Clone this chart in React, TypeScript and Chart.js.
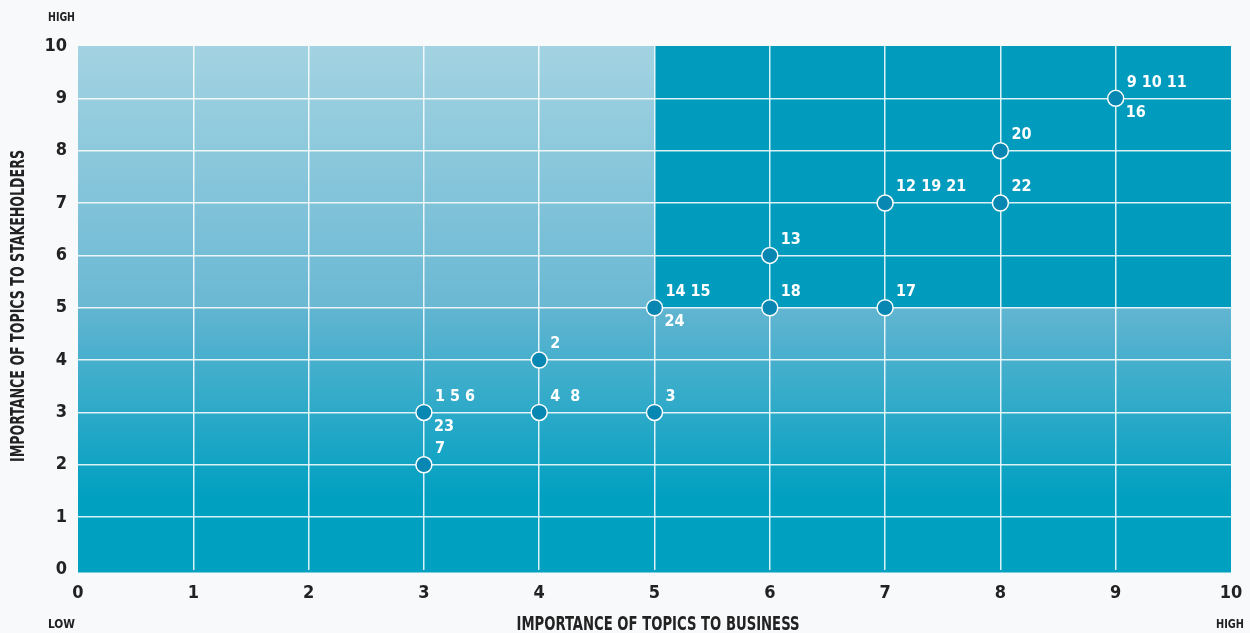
import React, { useEffect, useRef } from "react";
import { Chart, registerables } from "chart.js";

Chart.register(...registerables);

const pointX = [3, 3, 4, 4, 5, 5, 6, 6, 7, 7, 8, 8, 9];
const pointY = [3, 2, 4, 3, 3, 5, 5, 6, 5, 7, 7, 8, 9];
const labelsAbove = ["1 5 6", "7", "2", "4  8", "3", "14 15", "18", "13", "17", "12 19 21", "22", "20", "9 10 11"];
const labelsBelow = ["23", "", "", "", "", "24", "", "", "", "", "", "", "16"];

const xTickLabels = ["0", "1", "2", "3", "4", "5", "6", "7", "8", "9", "10"];
const yTickLabels = ["0", "1", "2", "3", "4", "5", "6", "7", "8", "9", "10"];

const xTitle = "IMPORTANCE OF TOPICS TO BUSINESS";
const yTitle = "IMPORTANCE OF TOPICS TO STAKEHOLDERS";
const lowLabel = "LOW";
const highLabel = "HIGH";

const TICK_FONT = "DejaVu Sans Condensed";
const TITLE_FONT = "DejaVu Sans Condensed";

function fitText(ctx: CanvasRenderingContext2D, text: string, cx: number, cy: number, targetW: number, rotate: boolean, align: "center" | "left") {
  const w = ctx.measureText(text).width;
  const sx = targetW / w;
  ctx.save();
  ctx.translate(cx, cy);
  if (rotate) ctx.rotate(-Math.PI / 2);
  ctx.scale(sx, 1);
  ctx.textAlign = align;
  ctx.fillText(text, 0, 0);
  ctx.restore();
}

const backgroundPlugin = {
  id: "quadrantBackground",
  beforeDraw(chart: any) {
    const { ctx, scales } = chart;
    const xs = scales.x;
    const ys = scales.y;
    const x0 = xs.getPixelForValue(0);
    const x5 = xs.getPixelForValue(5);
    const x10 = xs.getPixelForValue(10);
    const y0 = ys.getPixelForValue(0) + 3;
    const y5 = ys.getPixelForValue(5);
    const y10 = ys.getPixelForValue(10);
    ctx.save();
    let g = ctx.createLinearGradient(0, y10, 0, y5);
    g.addColorStop(0, "#a3d3e2");
    g.addColorStop(1, "#6ab8d3");
    ctx.fillStyle = g;
    ctx.fillRect(x0, y10, x5 - x0, y5 - y10);
    ctx.fillStyle = "#009bbd";
    ctx.fillRect(x5, y10, x10 - x5, y5 - y10);
    g = ctx.createLinearGradient(0, y5, 0, y0);
    g.addColorStop(0, "#62b5d1");
    g.addColorStop(0.72, "#00a0c1");
    g.addColorStop(1, "#00a0c1");
    ctx.fillStyle = g;
    ctx.fillRect(x0, y5, x10 - x0, y0 - y5);
    ctx.restore();
  },
};

const labelsPlugin = {
  id: "pointLabels",
  afterDatasetsDraw(chart: any) {
    const { ctx } = chart;
    const meta = chart.getDatasetMeta(0);
    ctx.save();
    ctx.fillStyle = "#ffffff";
    ctx.font = `bold 16px "${TICK_FONT}"`;
    ctx.textBaseline = "middle";
    ctx.textAlign = "left";
    meta.data.forEach((el: any, i: number) => {
      const { x, y } = el.getProps(["x", "y"], true);
      if (labelsAbove[i]) ctx.fillText(labelsAbove[i], x + 11, y - 16);
      if (labelsBelow[i]) ctx.fillText(labelsBelow[i], x + 10, y + 14);
    });
    ctx.restore();
  },
};

const titlesPlugin = {
  id: "axisTitles",
  afterDraw(chart: any) {
    const { ctx } = chart;
    ctx.save();
    ctx.fillStyle = "#222222";
    ctx.textBaseline = "middle";
    ctx.font = `bold 19px "${TITLE_FONT}"`;
    fitText(ctx, xTitle, 658, 625, 283, false, "center");
    fitText(ctx, yTitle, 19, 306, 312, true, "center");
    ctx.font = `bold 13px "${TITLE_FONT}"`;
    fitText(ctx, highLabel, 48, 18, 27, false, "left");
    fitText(ctx, lowLabel, 48, 625, 27, false, "left");
    fitText(ctx, highLabel, 1216, 625, 28, false, "left");
    ctx.restore();
  },
};

export default function App() {
  const canvasRef = useRef<HTMLCanvasElement | null>(null);

  useEffect(() => {
    document.body.style.margin = "0";
    document.body.style.background = "#f8f9fb";
    const canvas = canvasRef.current;
    if (!canvas) return;
    const gridColor = (c: any) =>
      c.tick && (c.tick.value === 0 || c.tick.value === 10) ? "rgba(0,0,0,0)" : "rgba(255,255,255,0.85)";
    const chart = new Chart(canvas, {
      type: "scatter",
      data: {
        datasets: [
          {
            data: pointX.map((x, i) => ({ x, y: pointY[i] })),
            backgroundColor: "#0787b2",
            borderColor: "#ffffff",
            borderWidth: 1.5,
            pointRadius: 8,
            pointHoverRadius: 8,
          },
        ],
      },
      options: {
        responsive: false,
        maintainAspectRatio: false,
        animation: false,
        events: [],
        layout: { padding: { top: 46, right: 19, left: 0, bottom: 0 } },
        plugins: { legend: { display: false }, tooltip: { enabled: false } },
        scales: {
          x: {
            type: "linear",
            min: 0,
            max: 10,
            border: { display: false },
            grid: { color: gridColor, lineWidth: 1.5, drawTicks: false },
            afterFit: (s: any) => {
              s.height = 63.5;
              s.paddingLeft = 0;
              s.paddingRight = 0;
            },
            afterBuildTicks: (s: any) => {
              s.ticks = xTickLabels.map((_, i) => ({ value: i }));
            },
            ticks: {
              padding: 13,
              color: "#222222",
              font: { family: TICK_FONT, size: 18, weight: "bold" },
              callback: (v: any) => xTickLabels[v] ?? "",
              maxRotation: 0,
              autoSkip: false,
            },
          },
          y: {
            type: "linear",
            min: 0,
            max: 10,
            border: { display: false },
            grid: { color: gridColor, lineWidth: 1.5, drawTicks: false },
            afterFit: (s: any) => {
              s.width = 78;
              s.paddingTop = 0;
              s.paddingBottom = 0;
            },
            afterBuildTicks: (s: any) => {
              s.ticks = yTickLabels.map((_, i) => ({ value: i }));
            },
            ticks: {
              padding: 11,
              color: "#222222",
              font: { family: TICK_FONT, size: 18, weight: "bold" },
              callback: (v: any) => yTickLabels[v] ?? "",
              autoSkip: false,
            },
          },
        },
      },
      plugins: [backgroundPlugin, labelsPlugin, titlesPlugin],
    } as any);
    return () => chart.destroy();
  }, []);

  return (
    <div style={{ position: "relative", width: 1250, height: 633 }}>
      <canvas ref={canvasRef} width={1250} height={633} style={{ width: 1250, height: 633, display: "block" }} />
    </div>
  );
}
